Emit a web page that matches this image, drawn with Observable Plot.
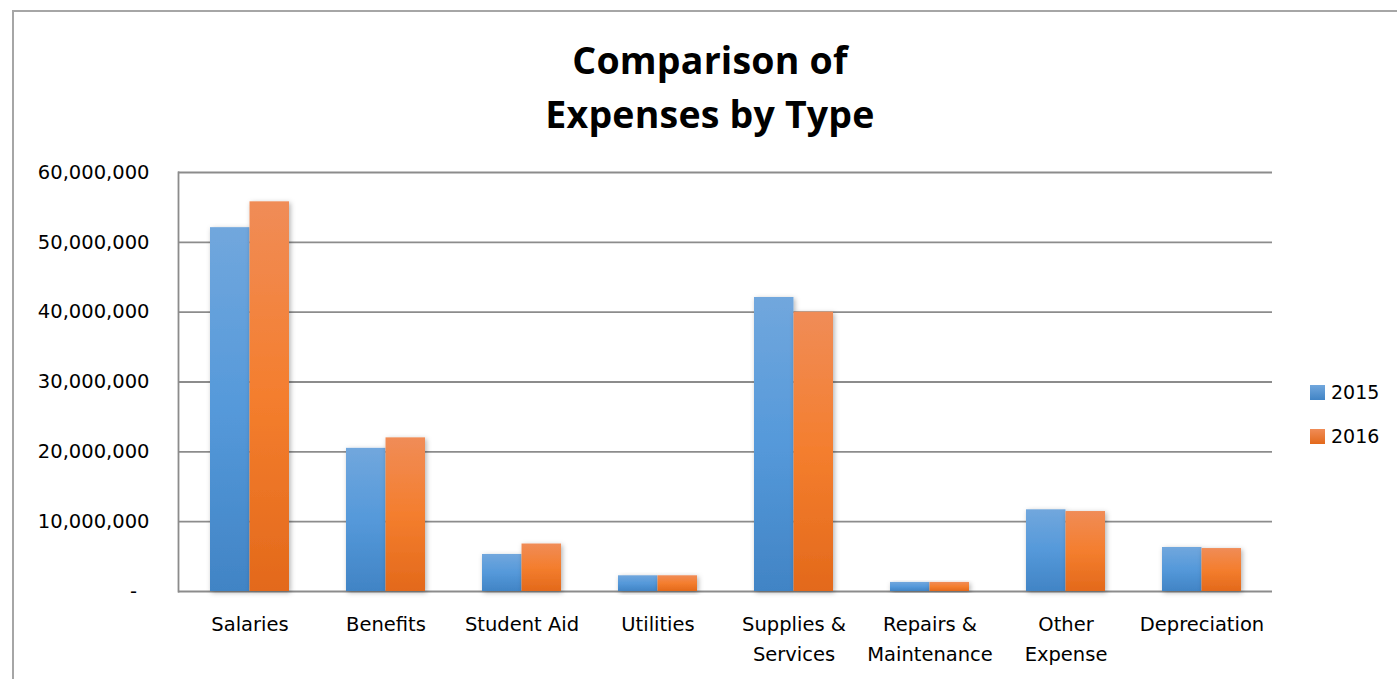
<!DOCTYPE html>
<html><head><meta charset="utf-8">
<script src="https://cdn.jsdelivr.net/npm/d3@7"></script>
<script src="https://cdn.jsdelivr.net/npm/@observablehq/plot@0.6"></script>
<style>
body{margin:0;width:1397px;height:679px;overflow:hidden;background:#fff;font-family:"DejaVu Sans",sans-serif;position:relative}
#frame{position:absolute;left:12px;top:10px;width:1500px;height:800px;border:2px solid #a6a6a6;box-sizing:border-box}
#title{position:absolute;left:0;width:1420px;top:33px;text-align:center;font-family:"Open Sans",sans-serif;font-weight:bold;font-size:37.5px;line-height:54px;color:#000;letter-spacing:0.2px}
#chart{position:absolute;left:0;top:0}
#legend{position:absolute;left:1310px;top:378px;font-family:"DejaVu Sans",sans-serif;font-size:19px;color:#000}
.li{display:flex;align-items:center;height:28px;margin-bottom:16px}
.sw{width:15px;height:15px;margin-right:6px}
</style></head>
<body>
<div id="frame"></div>
<div id="title">Comparison of<br>Expenses by Type</div>
<div id="chart"></div>
<div id="legend"></div>
<script>
const categories = ["Salaries","Benefits","Student Aid","Utilities","Supplies & Services","Repairs & Maintenance","Other Expense","Depreciation"];
const tickLabels = ["Salaries","Benefits","Student Aid","Utilities","Supplies &\nServices","Repairs &\nMaintenance","Other\nExpense","Depreciation"];
const years = ["2015","2016"];
const values2015 = [52100000, 20500000, 5300000, 2250000, 42100000, 1300000, 11700000, 6300000];
const values2016 = [55800000, 22000000, 6800000, 2250000, 40000000, 1300000, 11450000, 6150000];
const yTicks = [0, 10000000, 20000000, 30000000, 40000000, 50000000, 60000000];
const colors = {"2015": ["#71a7dd", "#5599da", "#4184c5"], "2016": ["#f08c57", "#f47e2e", "#e3691b"]};

const d2015 = categories.map((c, i) => ({category: c, year: "2015", value: values2015[i]}));
const d2016 = categories.map((c, i) => ({category: c, year: "2016", value: values2016[i]}));

const fmt = d => d === 0 ? "-\u00a0\u00a0" : d3.format(",")(d);

const W = 1397, H = 679;
const mL = 178, mR = 125, mT = 172, mB = 88;
const pInner = 0.422;
const band = (W - mL - mR) / categories.length * (1 - pInner);
const half = band / 2;

const svg = Plot.plot({
  width: W, height: H,
  marginLeft: mL, marginRight: mR, marginTop: mT, marginBottom: mB,
  style: {fontFamily: "DejaVu Sans", fontSize: "19.5px", color: "#000", background: "transparent", overflow: "visible"},
  x: {domain: categories, paddingInner: pInner, paddingOuter: pInner / 2, align: 0.5},
  y: {domain: [0, 60000000]},
  marks: [
    Plot.ruleY(yTicks, {stroke: "#8c8c8c", strokeWidth: 1.8}),
    Plot.frame({anchor: "left", stroke: "#8c8c8c", strokeWidth: 1.8}),
    Plot.barY(d2015, {x: "category", y: "value", fill: "url(#g2015)", insetRight: half}),
    Plot.barY(d2016, {x: "category", y: "value", fill: "url(#g2016)", insetLeft: half}),
    Plot.axisY(yTicks, {tickSize: 0, tickPadding: 29, tickFormat: fmt, label: null, fill: "#000"}),
    Plot.axisX({tickSize: 0, tickPadding: 19, tickFormat: d => tickLabels[categories.indexOf(d)], label: null, lineHeight: 1.5, fill: "#000"})
  ]
});

const defs = d3.select(svg).insert("defs", ":first-child");
for (const y of years) {
  const g = defs.append("linearGradient").attr("id", "g" + y).attr("x1", 0).attr("y1", 0).attr("x2", 0).attr("y2", 1);
  g.append("stop").attr("offset", "0%").attr("stop-color", colors[y][0]);
  g.append("stop").attr("offset", "50%").attr("stop-color", colors[y][1]);
  g.append("stop").attr("offset", "100%").attr("stop-color", colors[y][2]);
}
const f = defs.append("filter").attr("id", "sh").attr("x", "-20%").attr("y", "-20%").attr("width", "140%").attr("height", "140%");
f.append("feDropShadow").attr("dx", 1.5).attr("dy", 1.5).attr("stdDeviation", 2.5).attr("flood-color", "#000").attr("flood-opacity", 0.3);
d3.select(svg).selectAll("g[aria-label='bar'] rect").attr("filter", "url(#sh)");
document.getElementById("chart").appendChild(svg);

const legend = d3.select("#legend");
for (const y of years) {
  const it = legend.append("div").attr("class", "li");
  it.append("div").attr("class", "sw").style("background", `linear-gradient(${colors[y][0]}, ${colors[y][2]})`);
  it.append("span").text(y);
}
</script>
</body></html>
